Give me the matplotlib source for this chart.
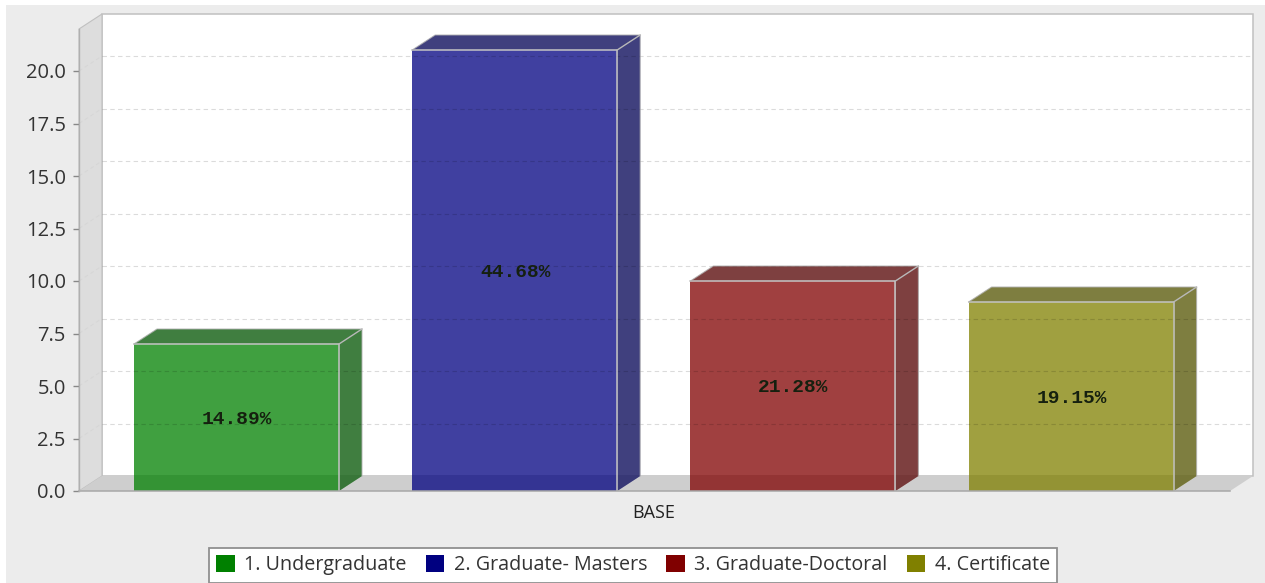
import matplotlib
matplotlib.use("Agg")
import matplotlib.pyplot as plt
from matplotlib.patches import Polygon, Rectangle, Patch

categories = ["1. Undergraduate", "2. Graduate- Masters", "3. Graduate-Doctoral", "4. Certificate"]
values = [7, 21, 10, 9]
labels = ["14.89%", "44.68%", "21.28%", "19.15%"]
colors = ["#008000", "#000080", "#800000", "#808000"]
yticks = [0, 2.5, 5, 7.5, 10, 12.5, 15, 17.5, 20]
xlabel = "BASE"

W, H = 1265, 583
L, R, T, B = 79, 1253, 14, 491
PX_PER_UNIT = 21.0
DX, DY_PX = 23, 15
DY = DY_PX / PX_PER_UNIT
BAR_W = 205
BAR_0 = 55
BAR_STEP = 278.2

fig = plt.figure(figsize=(W / 100, H / 100), dpi=100, facecolor="white")
fig.add_artist(Rectangle((6 / W, 0), 1, 1 - 5 / H, transform=fig.transFigure,
                         fc="#ececec", ec="none", zorder=-10))
ax = fig.add_axes([L / W, 1 - B / H, (R - L) / W, (B - T) / H])
ax.set_xlim(0, R - L)
ax.set_ylim(0, (B - T) / PX_PER_UNIT)
ax.patch.set_visible(False)
for s in ax.spines.values():
    s.set_visible(False)

ymax = ax.get_ylim()[1]
xmax = R - L
wall_top = ymax - DY
edge = "#c0c0c0"

ax.add_patch(Rectangle((DX, DY), xmax - DX, ymax - DY, fc="white", ec=edge, lw=1.1, zorder=1, clip_on=False))
ax.add_patch(Polygon([(0, 0), (DX, DY), (DX, ymax), (0, wall_top)], fc="#dddddd", ec=edge, lw=0.8, zorder=1.1, clip_on=False))
ax.add_patch(Polygon([(0, 0), (DX, DY), (xmax, DY), (xmax - DX, 0)], fc="#cecece", ec="none", zorder=1.1, clip_on=False))

for t in yticks[1:]:
    ax.plot([DX, xmax], [t + DY, t + DY], color="black", alpha=0.14, lw=0.8, ls=(0, (4, 3)), zorder=3.1)
    ax.plot([0, DX], [t, t + DY], color="#d6d6d6", lw=0.7, ls=(0, (4, 3)), zorder=1.5)

for i, (v, lab, c) in enumerate(zip(values, labels, colors)):
    x0 = BAR_0 + BAR_STEP * i
    x1 = x0 + BAR_W
    side = [(x1, 0), (x1 + DX, DY), (x1 + DX, v + DY), (x1, v)]
    top = [(x0, v), (x1, v), (x1 + DX, v + DY), (x0 + DX, v + DY)]
    for poly in (side, top):
        ax.add_patch(Polygon(poly, fc=c, alpha=0.75, ec="none", zorder=2))
        ax.add_patch(Polygon(poly, fc="#404040", alpha=0.35, ec="none", zorder=2.1))
    ax.bar(x0, v, width=BAR_W, align="edge", color=c, alpha=0.75, zorder=3)
    ax.plot([x0, x1, x1], [v, v, 0], color="#c4c4c4", lw=1.1, zorder=3.2)
    ax.plot([x0, x0 + DX, x1 + DX, x1 + DX], [v, v + DY, v + DY, DY], color="#b0b0b0", lw=0.8, alpha=0.8, zorder=3.2)
    ax.plot([x1, x1 + DX], [v, v + DY], color="#b8b8b8", lw=1.0, zorder=3.2)
    ax.text(x0 + BAR_W / 2 + 0.5, v / 2 - 2 / PX_PER_UNIT, lab, ha="center", va="center", fontsize=14,
            family="Liberation Mono", fontweight="bold", color="#15200f", zorder=4)

ax.set_yticks(yticks)
ax.set_yticklabels([f"{t:.1f}" for t in yticks], family="Open Sans", fontsize=14.5, color="#333333")
ax.tick_params(axis="y", length=4, width=1, color="#888888", pad=5.5)
ax.set_xticks([])
ax.plot([0, xmax - DX], [0, 0], color="#a8a8a8", lw=1.1, zorder=3.5, clip_on=False)
ax.plot([0, 0], [0, wall_top], color="#b0b0b0", lw=1.0, zorder=3.5, clip_on=False)
ax.text((xmax - DX) / 2 - 1, -22 / PX_PER_UNIT, xlabel, ha="center", va="center",
        family="Open Sans", fontsize=13, color="#222222", clip_on=False)

handles = [Patch(fc=c, ec="none", label=n) for c, n in zip(colors, categories)]
leg = fig.legend(handles=handles, ncol=4, loc="lower left",
                 bbox_to_anchor=(209 / W, 0.5 / H), borderaxespad=0,
                 prop={"family": "Open Sans", "size": 14.2}, frameon=True, fancybox=False,
                 facecolor="white", edgecolor="#909090", framealpha=1,
                 handlelength=0.95, handleheight=0.95, handletextpad=0.46,
                 columnspacing=0.98, borderpad=0.36, labelcolor="#333333")
leg.get_frame().set_linewidth(1.3)

fig.savefig("out.png", dpi=100, facecolor=fig.get_facecolor())
